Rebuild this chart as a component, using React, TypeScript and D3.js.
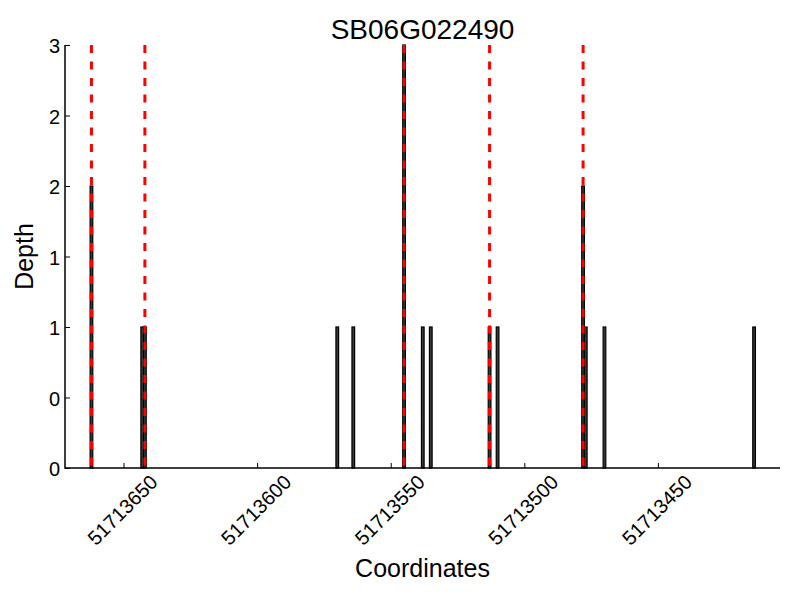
import React, { useEffect, useRef } from "react";
import * as d3 from "d3";

const title = "SB06G022490";
// read coverage per coordinate
const positions = [
  51713662, 51713643, 51713642, 51713570, 51713564, 51713545, 51713538,
  51713535, 51713513, 51713510, 51713478, 51713477, 51713470, 51713414,
];
const depths = [2, 1, 1, 1, 1, 3, 1, 1, 1, 1, 2, 1, 1, 1];
// red dashed markers
const markers = [51713662, 51713642, 51713545, 51713513, 51713478];
const xTicks = [51713650, 51713600, 51713550, 51713500, 51713450];
const yTicks = [0, 0.5, 1, 1.5, 2, 2.5, 3];

const font = "'Liberation Sans', Arial, sans-serif";

function App() {
  const ref = useRef<SVGSVGElement>(null);

  useEffect(() => {
    document.body.style.margin = "0";
    drawChart();
  }, []);

  function drawChart() {
    const left = 65,
      right = 780,
      top = 45,
      bottom = 468;

    const svg = d3.select(ref.current);
    svg.selectAll("*").remove();

    const xScale = d3
      .scaleLinear()
      .domain([51713671.9, 51713404.3])
      .range([left, right]);
    const yScale = d3.scaleLinear().domain([0, 3]).range([bottom, top]);
    const bw = Math.abs(xScale(0) - xScale(1));

    const data = positions.map((p, i) => ({ pos: p, depth: depths[i] }));

    // bars
    svg
      .append("g")
      .selectAll("rect")
      .data(data)
      .enter()
      .append("rect")
      .attr("x", (d) => xScale(d.pos) - bw / 2)
      .attr("y", (d) => yScale(d.depth))
      .attr("width", bw)
      .attr("height", (d) => bottom - yScale(d.depth))
      .attr("fill", "#3a3a3a")
      .attr("stroke", "#000")
      .attr("stroke-width", 1.2);

    // red dashed lines
    svg
      .append("g")
      .selectAll("line")
      .data(markers)
      .enter()
      .append("line")
      .attr("x1", (d) => xScale(d))
      .attr("x2", (d) => xScale(d))
      .attr("y1", top)
      .attr("y2", bottom)
      .attr("stroke", "#ff0000")
      .attr("stroke-width", 3)
      .attr("stroke-dasharray", "8,8.5");

    // tick marks (inward)
    const xAxis = svg
      .append("g")
      .attr("transform", `translate(0,${bottom})`)
      .call(d3.axisBottom(xScale).tickValues(xTicks).tickSize(-5).tickFormat(() => ""));
    xAxis.select(".domain").remove();
    xAxis.selectAll("line").attr("stroke", "#000").attr("stroke-width", 1);

    const yAxis = svg
      .append("g")
      .attr("transform", `translate(${left},0)`)
      .call(d3.axisLeft(yScale).tickValues(yTicks).tickSize(-5).tickFormat(() => ""));
    yAxis.select(".domain").remove();
    yAxis.selectAll("line").attr("stroke", "#000").attr("stroke-width", 1);

    // spines
    svg
      .append("path")
      .attr("d", `M${left},${top}V${bottom}H${right}`)
      .attr("fill", "none")
      .attr("stroke", "#000")
      .attr("stroke-width", 1.5);

    // tick labels
    svg
      .append("g")
      .selectAll("text")
      .data(yTicks)
      .enter()
      .append("text")
      .attr("x", left - 5)
      .attr("y", (d) => yScale(d) + 1)
      .attr("text-anchor", "end")
      .attr("dominant-baseline", "central")
      .attr("font-family", font)
      .attr("font-size", 20)
      .text((d) => String(Math.floor(d)));

    svg
      .append("g")
      .selectAll("text")
      .data(xTicks)
      .enter()
      .append("text")
      .attr("transform", (d) => `translate(${xScale(d) - 1},${bottom + 42}) rotate(-45)`)
      .attr("text-anchor", "middle")
      .attr("dominant-baseline", "central")
      .attr("font-family", font)
      .attr("font-size", 20)
      .text((d) => String(d));

    // titles
    svg
      .append("text")
      .attr("x", (left + right) / 2)
      .attr("y", 39)
      .attr("text-anchor", "middle")
      .attr("font-family", font)
      .attr("font-size", 28)
      .text(title);

    svg
      .append("text")
      .attr("x", (left + right) / 2)
      .attr("y", 577)
      .attr("text-anchor", "middle")
      .attr("font-family", font)
      .attr("font-size", 25)
      .text("Coordinates");

    svg
      .append("text")
      .attr("transform", `translate(33,${(top + bottom) / 2}) rotate(-90)`)
      .attr("text-anchor", "middle")
      .attr("font-family", font)
      .attr("font-size", 25)
      .text("Depth");
  }

  return <svg ref={ref} width={800} height={600} style={{ display: "block" }} />;
}

export default App;
